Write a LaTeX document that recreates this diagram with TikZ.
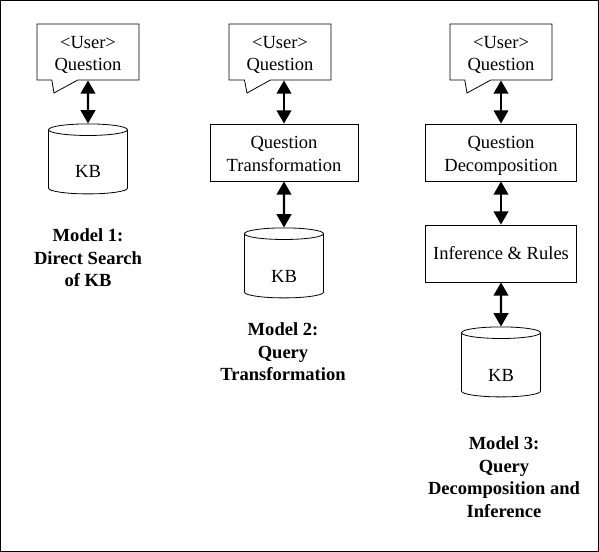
\documentclass[tikz,border=0pt]{standalone}
\usepackage{fontspec}
\setmainfont{Liberation Serif}
\usetikzlibrary{shapes.geometric,shapes.callouts,arrows.meta}
\begin{document}
\begin{tikzpicture}[
		x=0.75pt, y=-0.75pt,
		every node/.style={font=\fontsize{13.9pt}{16.9pt}\selectfont, inner sep=0pt, align=center},
		ask/.style={rectangle callout, draw, line width=0.6pt, minimum width=76.5pt, minimum height=42pt, callout pointer width=19.5pt, pair},
		stage/.style={rectangle, draw, line width=0.6pt, minimum height=42.75pt},
		pair/.style={text height=28.5pt, text depth=0pt},
		kb/.style={cylinder, shape border rotate=90, draw, line width=0.6pt, aspect=0.45, minimum width=59.25pt, minimum height=52.5pt, text height=24pt, text depth=0pt},
		caption/.style={font=\fontsize{13.9pt}{16.9pt}\selectfont\bfseries},
		link/.style={{Triangle[length=10pt,width=11pt]}-{Triangle[length=10pt,width=11pt]}, line width=1.6pt}
	]
	\useasboundingbox (0,0) rectangle (599,552);
	\draw[line width=0.75pt] (0.5,0.5) rectangle (598.5,551.5);

	\node[ask, callout absolute pointer={(54,93)}] (u1) at (88,52) {<User>\\Question};
	\node[kb] (kb1) at (88,162) {KB};
	\node[caption] (m1) at (88,258) {Model 1:\\Direct Search\\of KB};
	\draw[link] (u1.south) -- (kb1.north);

	\node[ask, callout absolute pointer={(247,93)}] (u2) at (280,52) {<User>\\Question};
	\node[stage, pair, minimum width=111pt] (t2) at (284,152.5) {Question\\Transformation};
	\node[kb] (kb2) at (284,266) {KB};
	\node[caption] (m2) at (283,352) {Model 2:\\Query\\Transformation};
	\draw[link] (u2.south -| t2.north) -- (t2.north);
	\draw[link] (t2.south) -- (kb2.north);

	\node[ask, callout absolute pointer={(467,93)}] (u3) at (501,52) {<User>\\Question};
	\node[stage, pair, minimum width=113.25pt] (d3) at (501,152.5) {Question\\Decomposition};
	\node[stage, minimum width=113.25pt] (r3) at (501,253.5) {Inference \& Rules};
	\node[kb] (kb3) at (501,365) {KB};
	\node[caption] (m3) at (504,477) {Model 3:\\Query\\Decomposition and\\Inference};
	\draw[link] (u3.south) -- (d3.north);
	\draw[link] (d3.south) -- (r3.north);
	\draw[link] (r3.south) -- (kb3.north);
\end{tikzpicture}
\end{document}
